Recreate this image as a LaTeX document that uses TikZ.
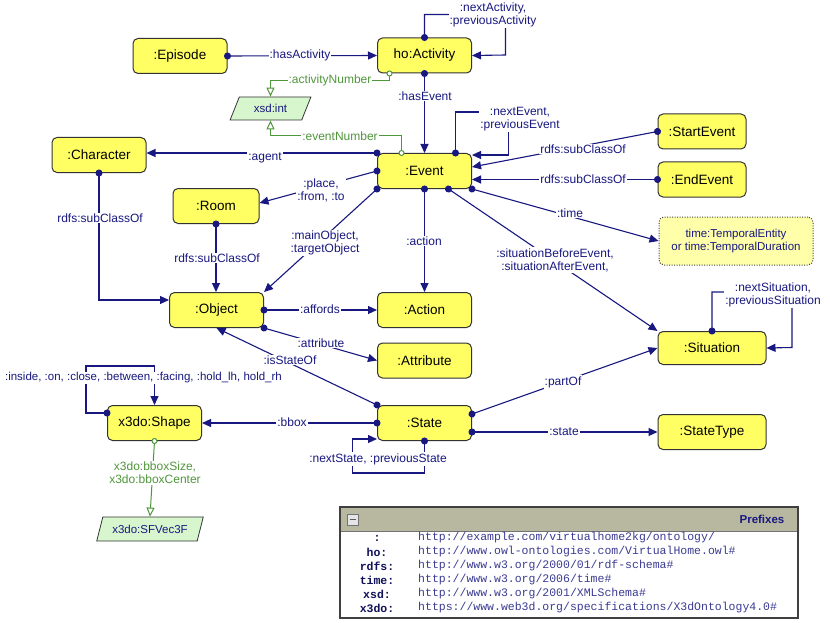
\documentclass[tikz,border=0pt]{standalone}
\usepackage{fontspec}
\setmainfont{Liberation Sans}
\newfontfamily\monofont{Liberation Mono}
\usetikzlibrary{arrows.meta,shapes.geometric,calc}
\definecolor{navy}{RGB}{24,24,128}
\definecolor{ogreen}{RGB}{80,150,60}
\definecolor{nodeyellow}{RGB}{255,255,100}
\definecolor{dtgreen}{RGB}{215,246,205}
\definecolor{hdrgray}{RGB}{184,184,160}
\begin{document}
\begin{tikzpicture}[x=1pt,y=-1pt,
  cls/.style={draw=black!80, line width=1pt, fill=nodeyellow, rounded corners=5pt, minimum width=94pt, minimum height=35pt, font=\fontsize{13.5}{15}\selectfont, inner sep=0pt},
  dt/.style={trapezium, trapezium left angle=60, trapezium right angle=120, trapezium stretches=true, draw=black!80, line width=0.8pt, fill=dtgreen, text=navy, font=\fontsize{11.5}{13}\selectfont, inner sep=0pt},
  tbox/.style={draw=black!75, dash pattern=on 1pt off 1.5pt, line width=1pt, fill=nodeyellow!55, rounded corners=5pt, minimum width=154pt, minimum height=48pt, text=navy, font=\fontsize{11.5}{13}\selectfont, align=center},
  rel/.style={draw=navy, line width=1.1pt, {Circle[length=7pt]}-{Triangle[length=9pt,width=8pt]}, shorten <=-3.5pt},
  drel/.style={draw=ogreen, line width=1pt, {Circle[length=6pt,fill=white]}-{Triangle[open,length=9pt,width=8pt]}, shorten <=-3pt},
  lbl/.style={fill=white, text=navy, inner sep=1pt, font=\fontsize{12}{13}\selectfont, align=center},
  glbl/.style={lbl, text=ogreen},
  pk/.style={font={\monofont\bfseries\fontsize{11.5}{13}\selectfont}, text=navy!70!black, inner sep=0pt},
  pv/.style={font={\monofont\fontsize{11.5}{13}\selectfont}, text=navy!85, inner sep=0pt, anchor=west}
]
\useasboundingbox[fill=white] (0,0) rectangle (830,623);

% classes
\node[cls] (ep) at (180,56) {:Episode};
\node[cls] (act) at (424.5,55.5) {ho:Activity};
\node[dt, minimum width=81pt, minimum height=23pt] (xint) at (270.5,108.5) {xsd:int};
\node[cls] (ch) at (99,155) {:Character};
\node[cls] (ev) at (424.5,171) {:Event};
\node[cls, minimum width=88pt] (sev) at (702,131.5) {:StartEvent};
\node[cls, minimum width=88pt] (eev) at (702,179.5) {:EndEvent};
\node[tbox] (tm) at (736,241) {time:TemporalEntity\\or time:TemporalDuration};
\node[cls, minimum width=86pt] (rm) at (216,206) {:Room};
\node[cls] (obj) at (216.5,310) {:Object};
\node[cls] (actn) at (424.5,310) {:Action};
\node[cls] (attr) at (424.5,360.5) {:Attribute};
\node[cls, minimum width=108pt, minimum height=33pt] (sit) at (712,348) {:Situation};
\node[cls] (sh) at (154.5,423) {x3do:Shape};
\node[cls] (st) at (424.5,423) {:State};
\node[cls, minimum width=108pt] (stt) at (712,432) {:StateType};
\node[dt, minimum width=107pt, minimum height=24pt] (vec) at (150,529) {x3do:SFVec3F};

% relations
\draw[rel] (ep.east) -- (act.west);
\draw[rel] (act.north) -- ++(0,-23) -- ++(81,0) -- ++(0,40.5) -- (act.east);
\draw[rel] (act.south) -- (ev.north);
\draw[drel] ([xshift=-35pt]act.south) -- ++(0,7) -| (xint.north);
\draw[drel] ([xshift=-23pt]ev.north) -- ++(0,-17) -| (xint.south);
\draw[rel] (ev.north west) -- (ev.north west -| ch.east);
\draw[rel] ([xshift=31pt]ev.north) -- ++(0,-41) -- ++(53,0) -- ++(0,43) -- ([yshift=-2pt]ev.north east);
\draw[rel] (sev.west) -- ([yshift=4pt]ev.east);
\draw[rel] (eev.west) -- (eev.west -| ev.east);
\draw[rel] (ev.west) -- ([yshift=3pt]rm.east);
\draw[rel] (ev.south west) -- (obj.north east);
\draw[rel] (ev.south) -- (actn.north);
\draw[rel] ([xshift=24pt]ev.south) -- (sit.north west);
\draw[rel] (ev.south east) -- (tm.west);
\draw[rel] (ch.south) |- ([yshift=10pt]obj.west);
\draw[rel] (rm.south) -- (rm.south |- obj.north);
\draw[rel] (obj.east) -- (actn.west);
\draw[rel] (obj.south east) -- (attr.west);
\draw[rel] (st.north west) -- (obj.south);
\draw[rel] (st.west) -- (sh.east);
\draw[rel] ([yshift=10pt]sh.west) -- ++(-21,0) -- ++(0,-47) -| (sh.north);
\draw[drel] (sh.south) -- (vec.north);
\draw[rel] ([yshift=9pt]st.east) -- (sit.west);
\draw[rel] ([yshift=-9pt]st.east) -- (stt.west);
\draw[rel] (st.south) -- ++(0,32) -- ++(-72,0) -- ++(0,-34) -- ([yshift=2pt]st.south west);
\draw[rel] (sit.north) -- ++(0,-39) -- ++(80,0) -- ++(0,55.5) -- (sit.east);

% labels
\node[lbl] (l1) at (300,55) {:hasActivity};
\node[lbl] (l2) at (493,15) {:nextActivity,\\:previousActivity};
\node[glbl] (l3) at (330,80) {:activityNumber};
\node[lbl] (l4) at (425,96) {:hasEvent};
\node[glbl] (l5) at (340,136) {:eventNumber};
\node[lbl] (l6) at (520,119) {:nextEvent,\\:previousEvent};
\node[lbl] (l7) at (265,158) {:agent};
\node[lbl] (l8) at (583,149) {rdfs:subClassOf};
\node[lbl] (l9) at (583,179) {rdfs:subClassOf};
\node[lbl] (l10) at (321,190) {:place,\\:from, :to};
\node[lbl] (l11) at (325,243) {:mainObject,\\:targetObject};
\node[lbl] (l12) at (424,241) {:action};
\node[lbl] (l13) at (555,260) {:situationBeforeEvent,\\:situationAfterEvent,};
\node[lbl] (l14) at (570,213) {:time};
\node[lbl] (l15) at (100,218) {rdfs:subClassOf};
\node[lbl] (l16) at (217,258) {rdfs:subClassOf};
\node[lbl] (l17) at (320,309) {:affords};
\node[lbl] (l18) at (321,343) {:attribute};
\node[lbl] (l19) at (290,360) {:isStateOf};
\node[lbl] (l20) at (292,422) {:bbox};
\node[lbl, font=\fontsize{11.5}{13}\selectfont] (l21) at (143.5,378) {:inside, :on, :close, :between, :facing, :hold\_lh, hold\_rh};
\node[glbl] (l22) at (155,473) {x3do:bboxSize,\\x3do:bboxCenter};
\node[lbl] (l23) at (563,382) {:partOf};
\node[lbl] (l24) at (564,432) {:state};
\node[lbl] (l25) at (378,459) {:nextState, :previousState};
\node[lbl] (l26) at (773,295) {:nextSituation,\\:previousSituation};

% prefixes box
\draw[line width=1.5pt, draw=black!75, fill=white] (340,507) rectangle (798,618);
\fill[hdrgray] (340.75,507.75) rectangle (797.25,531);
\draw[black!55, line width=0.6pt] (340.75,531) -- (797.25,531);
\draw[black!55, fill=gray!20] (347,514) rectangle (358,525);
\draw[black!65, line width=1pt] (349.5,519.5) -- (355.5,519.5);
\node[font=\bfseries\fontsize{11.5}{13}\selectfont, text=navy] (ph) at (762,519) {Prefixes};
\node[pk] (k1) at (377,538) {:};
\node[pk] (k2) at (377,552) {ho:};
\node[pk] (k3) at (377,566) {rdfs:};
\node[pk] (k4) at (377,580) {time:};
\node[pk] (k5) at (377,594) {xsd:};
\node[pk] (k6) at (377,608) {x3do:};
\node[pv] (v1) at (418,538) {http://example.com/virtualhome2kg/ontology/};
\node[pv] (v2) at (418,552) {http://www.owl-ontologies.com/VirtualHome.owl\#};
\node[pv] (v3) at (418,566) {http://www.w3.org/2000/01/rdf-schema\#};
\node[pv] (v4) at (418,580) {http://www.w3.org/2006/time\#};
\node[pv] (v5) at (418,594) {http://www.w3.org/2001/XMLSchema\#};
\node[pv] (v6) at (418,608) {https://www.web3d.org/specifications/X3dOntology4.0\#};
\end{tikzpicture}
\end{document}
